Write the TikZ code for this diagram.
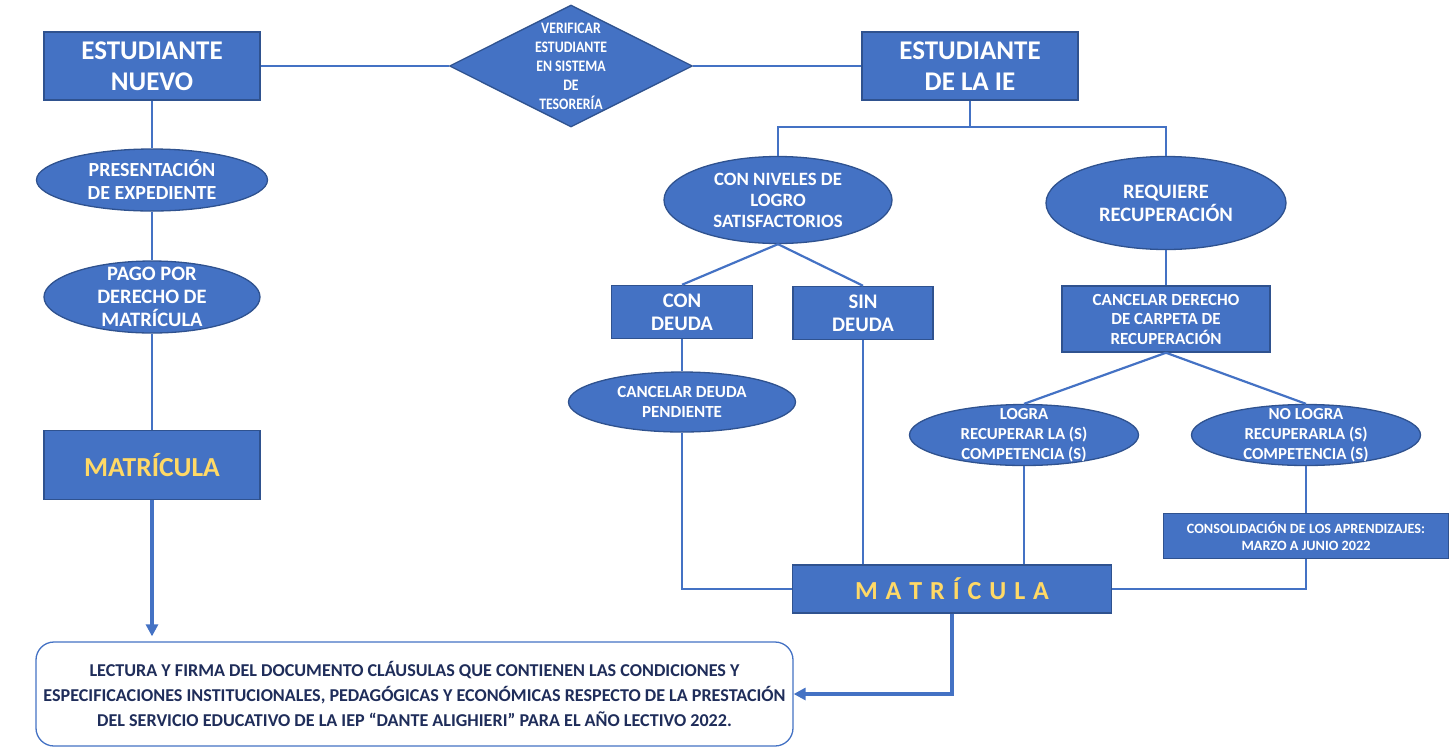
\documentclass[tikz,border=0pt]{standalone}
\usepackage{fontspec}
\setmainfont{Carlito}
\newfontfamily\condfont[FakeStretch=0.86]{Carlito}
\newfontfamily\spacedfont[WordSpace=1.35]{Carlito}
\usetikzlibrary{shapes.geometric,arrows.meta,calc}
\definecolor{fillb}{HTML}{4472C4}
\definecolor{edgeb}{HTML}{2F528F}
\definecolor{ylw}{HTML}{FFD966}
\definecolor{navy}{HTML}{1F2D5A}
\begin{document}
\begin{tikzpicture}[x=1pt,y=-1pt,
  box/.style={rectangle, draw=edgeb, fill=fillb, line width=1.5pt, inner sep=0pt, text=white, align=center},
  ell/.style={ellipse, draw=edgeb, fill=fillb, line width=1.3pt, inner sep=0pt},
  dia/.style={diamond, draw=edgeb, fill=fillb, line width=1.3pt, inner sep=0pt},
  txt/.style={text=white, align=center, inner sep=0pt},
  conn/.style={draw=fillb, line width=2.2pt},
  bigarrow/.style={draw=fillb, line width=3.5pt, -{Triangle[length=12pt,width=12pt]}}]
\useasboundingbox (0,0) rectangle (1456,748);

% left column
\node[box, minimum width=216pt, minimum height=68pt, font=\bfseries\fontsize{27}{31}\selectfont] (nuevo) at (152,66) {ESTUDIANTE\\NUEVO};
\node[dia, minimum width=243pt, minimum height=122pt,
  label={[txt, font=\condfont\bfseries\fontsize{16}{19}\selectfont]center:{VERIFICAR\\ESTUDIANTE\\EN SISTEMA\\DE\\TESORERÍA}}] (ver) at (571,66) {};
\node[box, minimum width=216pt, minimum height=68pt, font=\bfseries\fontsize{27}{31}\selectfont] (ie) at (970,66) {ESTUDIANTE\\DE LA IE};

\node[ell, minimum width=231pt, minimum height=62pt,
  label={[txt, font=\bfseries\fontsize{20}{23}\selectfont]center:{PRESENTACIÓN\\DE EXPEDIENTE}}] (pres) at (152,180) {};
\node[ell, minimum width=216pt, minimum height=72pt,
  label={[txt, font=\bfseries\fontsize{20.5}{23}\selectfont]center:{PAGO POR\\DERECHO DE\\MATRÍCULA}}] (pago) at (152,297) {};
\node[box, minimum width=216pt, minimum height=69pt, text=ylw, font=\bfseries\fontsize{27.5}{31}\selectfont] (mat1) at (152,465) {MATRÍCULA};

% right side
\node[ell, minimum width=228pt, minimum height=87pt,
  label={[txt, font=\bfseries\fontsize{18.8}{21}\selectfont]center:{CON NIVELES DE\\LOGRO\\SATISFACTORIOS}}] (niv) at (778,200) {};
\node[ell, minimum width=240pt, minimum height=93pt,
  label={[txt, font=\bfseries\fontsize{20.5}{23}\selectfont]center:{REQUIERE\\RECUPERACIÓN}}] (req) at (1166,203) {};
\node[box, minimum width=141pt, minimum height=53pt, font=\bfseries\fontsize{20.7}{23}\selectfont] (con) at (682,312) {CON\\DEUDA};
\node[box, minimum width=140pt, minimum height=53pt, font=\bfseries\fontsize{20.7}{23}\selectfont] (sin) at (863,313) {SIN\\DEUDA};
\node[ell, minimum width=227pt, minimum height=60pt,
  label={[txt, font=\bfseries\fontsize{17}{20}\selectfont]center:{CANCELAR DEUDA\\PENDIENTE}}] (cdp) at (682,402) {};
\node[box, minimum width=208pt, minimum height=66pt, font=\bfseries\fontsize{17}{19.5}\selectfont] (car) at (1166,319) {CANCELAR DERECHO\\DE CARPETA DE\\RECUPERACIÓN};
\node[ell, minimum width=229pt, minimum height=61pt,
  label={[txt, font=\bfseries\fontsize{16.8}{20}\selectfont]center:{LOGRA\\RECUPERAR LA (S)\\COMPETENCIA (S)}}] (logra) at (1024,435) {};
\node[ell, minimum width=229pt, minimum height=61pt,
  label={[txt, font=\bfseries\fontsize{16.8}{20}\selectfont]center:{NO LOGRA\\RECUPERARLA (S)\\COMPETENCIA (S)}}] (nolog) at (1306,435) {};
\node[box, minimum width=285pt, minimum height=45pt, font=\bfseries\fontsize{14.2}{17}\selectfont] (cons) at (1306,536) {CONSOLIDACIÓN DE LOS APRENDIZAJES:\\MARZO A JUNIO 2022};
\node[box, minimum width=319pt, minimum height=48pt, text=ylw, font=\spacedfont\bfseries\fontsize{26}{28}\selectfont] (mat2) at (952,589) {M A T R Í C U L A};

% final box
\node[rectangle, rounded corners=18pt, draw=fillb, line width=1.3pt, fill=white, minimum width=757pt, minimum height=104pt, inner sep=0pt, align=center, text=navy, font=\bfseries\fontsize{18.1}{25}\selectfont] (fin) at (414.5,694) {LECTURA Y FIRMA DEL DOCUMENTO CLÁUSULAS QUE CONTIENEN LAS CONDICIONES Y\\ESPECIFICACIONES INSTITUCIONALES, PEDAGÓGICAS Y ECONÓMICAS RESPECTO DE LA PRESTACIÓN\\DEL SERVICIO EDUCATIVO DE LA IEP “DANTE ALIGHIERI” PARA EL AÑO LECTIVO 2022.};

% connectors
\draw[conn] (nuevo.east) -- (ver.west);
\draw[conn] (ver.east) -- (ie.west);
\draw[conn] (nuevo.south) -- (pres.north);
\draw[conn] (pres.south) -- (pago.north);
\draw[conn] (pago.south) -- (mat1.north);
\draw[bigarrow, shorten >=5pt] (mat1.south) -- (mat1.south |- fin.north);
\draw[conn] (ie.south) -- ++(0,26) -| (niv.north);
\draw[conn] (ie.south) -- ++(0,26) -| (req.north);
\draw[conn] (niv.south) -- (con.north);
\draw[conn] (niv.south) -- (sin.north);
\draw[conn] (con.south) -- (cdp.north);
\draw[conn] (cdp.south) |- (mat2.west);
\draw[conn] (sin.south) -- (sin.south |- mat2.north);
\draw[conn] (req.south) -- (car.north);
\draw[conn] (car.south) -- (logra.north);
\draw[conn] (car.south) -- (nolog.north);
\draw[conn] (logra.south) -- (logra.south |- mat2.north);
\draw[conn] (nolog.south) -- (cons.north);
\draw[conn] (cons.south) |- (mat2.east);
\draw[bigarrow] (mat2.south) |- (fin.east);
\end{tikzpicture}
\end{document}
